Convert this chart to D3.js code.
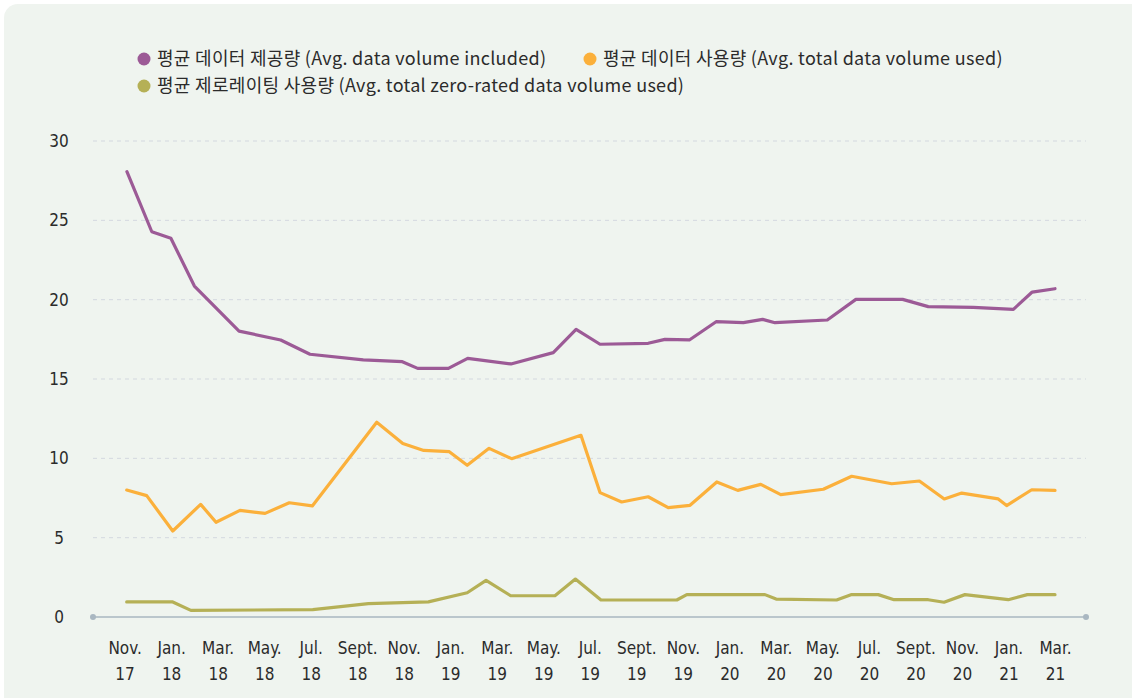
<!DOCTYPE html>
<html>
<head>
<meta charset="utf-8">
<script src="https://cdn.jsdelivr.net/npm/d3@7"></script>
<style>
  body { margin: 0; background: #fff; }
  #chart { width: 1132px; height: 698px; }
  text { fill: #2b2b2b; }
</style>
</head>
<body>
<div id="chart"></div>
<script>
// month offsets counted from Nov. 2017 (0) to Mar. 2021 (40)
const tickMonths = [0, 2, 4, 6, 8, 10, 12, 14, 16, 18, 20, 22, 24, 26, 28, 30, 32, 34, 36, 38, 40];
const tickLabels = [
  ["Nov.", "17"], ["Jan.", "18"], ["Mar.", "18"], ["May.", "18"], ["Jul.", "18"], ["Sept.", "18"],
  ["Nov.", "18"], ["Jan.", "19"], ["Mar.", "19"], ["May.", "19"], ["Jul.", "19"], ["Sept.", "19"],
  ["Nov.", "19"], ["Jan.", "20"], ["Mar.", "20"], ["May.", "20"], ["Jul.", "20"], ["Sept.", "20"],
  ["Nov.", "20"], ["Jan.", "21"], ["Mar.", "21"]
];
const yTicks = [0, 5, 10, 15, 20, 25, 30];

// 평균 데이터 제공량
const includedX = [0.1, 1.17, 1.99, 3.0, 4.92, 6.71, 7.97, 10.26, 11.94, 12.6, 13.92, 14.75, 16.61, 18.43, 19.41,
  20.44, 22.51, 23.23, 24.28, 25.43, 26.6, 27.43, 27.96, 30.21, 31.44, 33.45, 34.55, 36.49, 38.21, 39.02, 40.0];
const includedY = [28.07, 24.28, 23.87, 20.86, 18.02, 17.46, 16.56, 16.2, 16.09, 15.67, 15.67, 16.3, 15.95, 16.66, 18.13,
  17.19, 17.25, 17.5, 17.46, 18.61, 18.55, 18.76, 18.55, 18.72, 20.02, 20.02, 19.56, 19.52, 19.39, 20.48, 20.69];

// 평균 데이터 사용량
const usedX = [0.09, 0.95, 2.07, 3.27, 3.93, 4.96, 6.04, 7.08, 8.07, 10.84, 11.96, 12.86, 13.96, 14.73, 15.67, 16.64,
  19.62, 20.44, 21.37, 22.51, 23.37, 24.31, 25.46, 26.36, 27.35, 28.21, 30.04, 31.26, 32.98, 34.17, 35.24, 35.99,
  37.56, 37.92, 39.0, 40.0];
const usedY = [8.0, 7.65, 5.42, 7.1, 5.97, 6.72, 6.53, 7.2, 7.0, 12.27, 10.94, 10.5, 10.42, 9.56, 10.63, 9.98,
  11.45, 7.84, 7.25, 7.58, 6.89, 7.04, 8.51, 7.98, 8.36, 7.71, 8.05, 8.87, 8.4, 8.57, 7.44, 7.81,
  7.44, 7.02, 8.02, 7.98];

// 평균 제로레이팅 사용량
const zeroX = [0.09, 2.07, 2.85, 8.09, 10.48, 13.06, 14.73, 15.54, 16.6, 18.5, 19.38, 20.48, 23.74, 24.17, 27.53,
  28.01, 30.61, 31.23, 32.4, 33.08, 34.55, 35.23, 36.13, 37.99, 38.81, 40.0];
const zeroY = [0.95, 0.95, 0.42, 0.46, 0.84, 0.95, 1.53, 2.31, 1.34, 1.34, 2.39, 1.07, 1.07, 1.41, 1.41,
  1.13, 1.07, 1.41, 1.41, 1.09, 1.09, 0.93, 1.41, 1.09, 1.41, 1.41];

const seriesNames = [
  "평균 데이터 제공량 (Avg. data volume included)",
  "평균 데이터 사용량 (Avg. total data volume used)",
  "평균 제로레이팅 사용량 (Avg. total zero-rated data volume used)"
];
const seriesColors = ["#9c5a96", "#fbb03b", "#b5b056"];

const series = [
  { name: seriesNames[0], color: seriesColors[0], values: includedX.map((m, i) => ({ m: m, v: includedY[i] })) },
  { name: seriesNames[1], color: seriesColors[1], values: usedX.map((m, i) => ({ m: m, v: usedY[i] })) },
  { name: seriesNames[2], color: seriesColors[2], values: zeroX.map((m, i) => ({ m: m, v: zeroY[i] })) }
];

const width = 1132, height = 698;
const margin = { top: 141, right: 46, bottom: 81, left: 93 };

const svg = d3.select("#chart").append("svg")
  .attr("width", width)
  .attr("height", height);

// panel background
svg.append("rect")
  .attr("x", 4).attr("y", 4)
  .attr("width", width + 20).attr("height", height + 20)
  .attr("rx", 14)
  .attr("fill", "#eff4ef");

const x = d3.scaleLinear().domain([0, 40]).range([124.6, 1055]);
const y = d3.scaleLinear().domain([0, 30]).range([height - margin.bottom, margin.top]);

const plotLeft = margin.left, plotRight = width - margin.right;

// grid lines
svg.append("g").attr("class", "grid")
  .selectAll("line")
  .data(yTicks.filter(d => d > 0))
  .enter().append("line")
  .attr("x1", plotLeft).attr("x2", plotRight)
  .attr("y1", d => y(d)).attr("y2", d => y(d))
  .attr("stroke", "#d3d8df")
  .attr("stroke-width", 1)
  .attr("stroke-dasharray", "4,4");

// baseline with end dots
svg.append("line")
  .attr("x1", plotLeft).attr("x2", plotRight)
  .attr("y1", y(0)).attr("y2", y(0))
  .attr("stroke", "#a9b7c1").attr("stroke-width", 1.5);
svg.selectAll(".end-dot")
  .data([plotLeft, plotRight])
  .enter().append("circle")
  .attr("class", "end-dot")
  .attr("cx", d => d).attr("cy", y(0)).attr("r", 3)
  .attr("fill", "#a9b7c1");

// y axis labels
const yAxis = d3.axisLeft(y).tickValues(yTicks).tickSize(0).tickPadding(0);
const yG = svg.append("g").attr("transform", "translate(59,0)").call(yAxis);
yG.select(".domain").remove();
yG.selectAll("text")
  .attr("text-anchor", "middle")
  .attr("x", 0)
  .style("font-family", "'DejaVu Sans Condensed', 'Liberation Sans Narrow', sans-serif")
  .style("font-size", "17px")
  .style("fill", "#2b2b2b");

// x axis labels (two lines)
const xAxis = d3.axisBottom(x).tickValues(tickMonths).tickSize(0).tickFormat("");
const xG = svg.append("g").attr("transform", `translate(0,${y(0)})`).call(xAxis);
xG.select(".domain").remove();
xG.selectAll(".tick text").remove();
xG.selectAll(".tick").each(function (d, i) {
  const t = d3.select(this).append("text")
    .attr("text-anchor", "middle")
    .style("font-family", "'DejaVu Sans Condensed', 'Liberation Sans Narrow', sans-serif")
    .style("font-size", "17px")
    .style("fill", "#2b2b2b");
  t.append("tspan").attr("x", 0).attr("y", 37).text(tickLabels[i][0]);
  t.append("tspan").attr("x", 0).attr("y", 63).text(tickLabels[i][1]);
});

// lines
const line = d3.line().x(d => x(d.m)).y(d => y(d.v));
svg.selectAll(".series")
  .data(series)
  .enter().append("path")
  .attr("class", "series")
  .attr("d", d => line(d.values))
  .attr("fill", "none")
  .attr("stroke", d => d.color)
  .attr("stroke-width", 3.2)
  .attr("stroke-linejoin", "round")
  .attr("stroke-linecap", "round");

// legend
const legendPos = [[144, 59], [590, 59], [144, 86]];
const legend = svg.append("g").attr("class", "legend");
series.forEach((s, i) => {
  const g = legend.append("g").attr("transform", `translate(${legendPos[i][0]},${legendPos[i][1]})`);
  g.append("circle").attr("r", 6.5).attr("cx", 0).attr("cy", 0).attr("fill", s.color);
  g.append("text")
    .attr("x", 13).attr("y", 0).attr("dy", "0.35em")
    .style("font-family", "'Noto Sans CJK KR', sans-serif")
    .style("font-size", "18px")
    .style("letter-spacing", "0.3px")
    .style("fill", "#2b2b2b")
    .text(s.name);
});
</script>
</body>
</html>
